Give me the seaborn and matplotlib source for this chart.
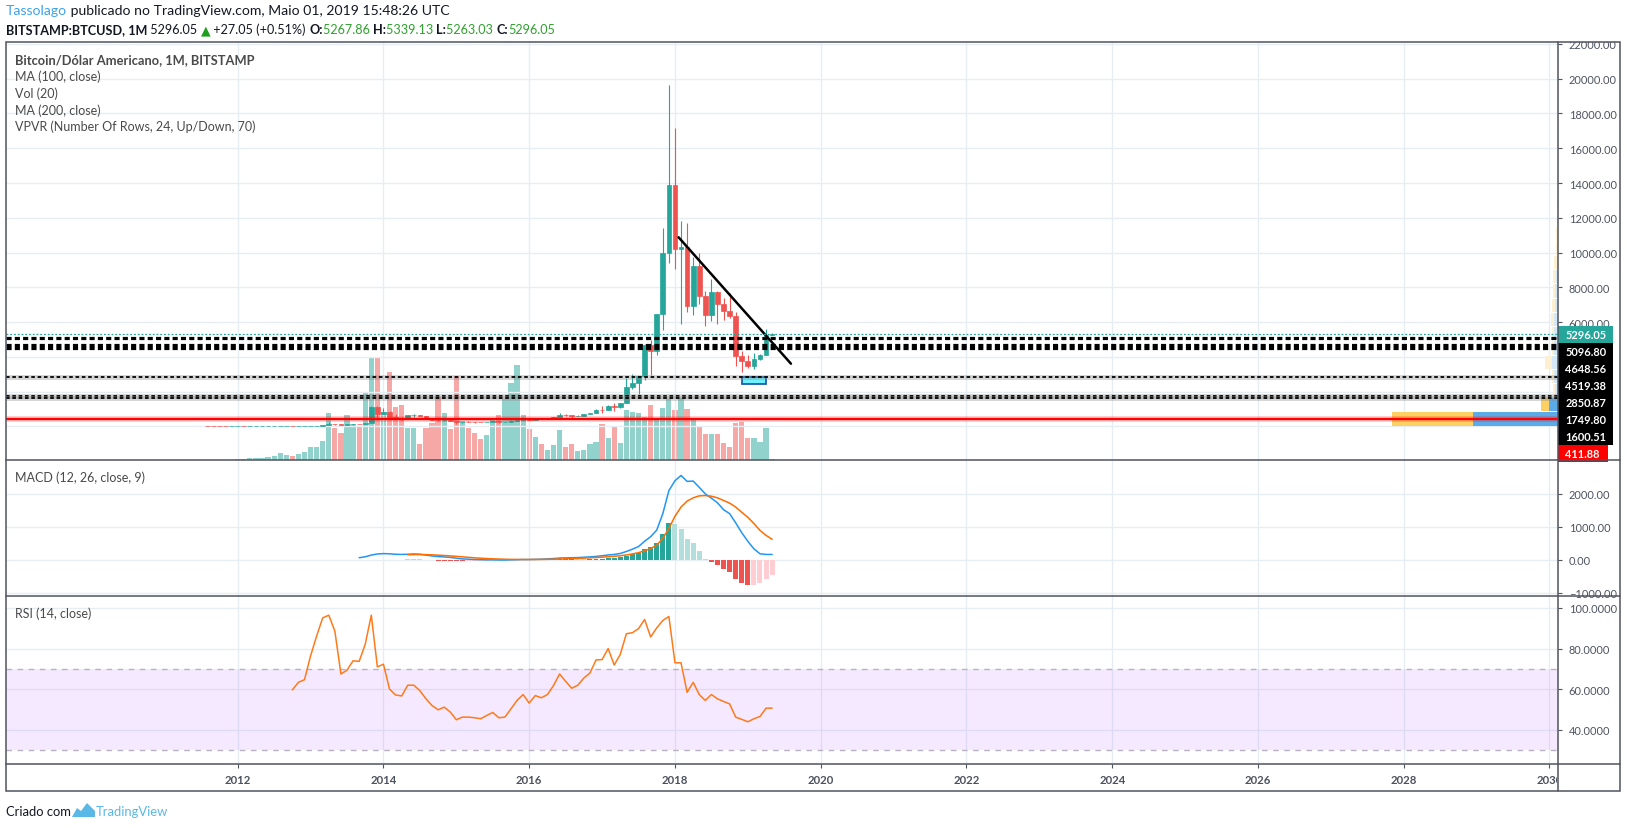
import numpy as np
import pandas as pd
import seaborn as sns
import matplotlib.pyplot as plt
import matplotlib.transforms as mtransforms
from matplotlib.lines import Line2D
from matplotlib.patches import Rectangle, Polygon

# monthly bars BITSTAMP:BTCUSD, Aug 2011 .. May 2019
months = pd.period_range('2011-08', '2019-05', freq='M')

open_ = [10.9, 8.2, 5.1, 3.2, 2.9,
         4.7, 5.5, 4.9, 4.9, 5.0, 5.2, 6.7, 9.3, 10.2, 12.4, 11.2, 12.6,
         13.5, 20.4, 33.4, 93, 139, 129, 97, 106, 135, 133, 198, 1129,
         732, 800, 550, 450, 445, 627, 637, 585, 478, 386, 338, 378,
         320, 217, 254, 244, 236, 230, 263, 284, 230, 236, 314, 377,
         430, 368, 437, 416, 448, 531, 673, 624, 573, 608, 700, 742,
         963, 960, 1190, 1080, 1348, 2286, 2480, 2875, 4703, 4338, 6468, 9947,
         13860, 10221, 10326, 6926, 9240, 7495, 6390, 7730, 7011, 6626, 6371, 4017,
         3742, 3458, 3854, 4105, 5267.86]
high = [13.0, 8.6, 5.4, 3.5, 4.8,
        7.2, 6.3, 5.5, 5.3, 5.2, 6.7, 9.7, 15.4, 12.5, 12.7, 12.9, 13.8,
        20.4, 33.4, 95, 259, 140, 130, 110, 136, 147, 215, 1163, 1150,
        1022, 870, 714, 548, 635, 680, 650, 600, 495, 414, 458, 382,
        320, 265, 300, 261, 247, 266, 318, 286, 245, 332, 502, 469,
        462, 448, 439, 467, 548, 780, 702, 624, 628, 720, 753, 975,
        1150, 1200, 1350, 1350, 2790, 3000, 2915, 4740, 4980, 6470, 11400, 19666,
        17176, 11789, 11710, 9759, 9990, 7766, 8488, 7760, 7410, 7680, 6550, 4310,
        4100, 4200, 4140, 5610, 5339.13]
low = [8.0, 4.5, 2.2, 2.0, 2.7,
       4.6, 4.3, 4.5, 4.8, 4.9, 5.2, 6.6, 7.1, 9.9, 10.3, 10.4, 12.6,
       13.2, 19.1, 33, 50, 79, 88, 65, 98, 118, 103, 196, 384,
       732, 410, 441, 340, 420, 545, 565, 440, 362, 276, 313, 300,
       152, 214, 240, 215, 225, 219, 253, 162, 225, 235, 300, 345,
       352, 366, 404, 412, 442, 518, 600, 480, 570, 603, 682, 743,
       752, 920, 890, 1060, 1345, 2120, 1830, 2682, 2972, 4110, 5555, 9380,
       9035, 5873, 6600, 6425, 7036, 5780, 6070, 5880, 6100, 6211, 3460, 3122,
       3340, 3320, 3830, 4095, 5263.03]
close = [8.2, 5.1, 3.2, 2.9, 4.7,
         5.5, 4.9, 4.9, 5.0, 5.2, 6.7, 9.3, 10.2, 12.4, 11.2, 12.6, 13.5,
         20.4, 33.4, 93, 139, 129, 97, 106, 135, 133, 198, 1129, 732,
         800, 550, 450, 445, 627, 637, 585, 478, 386, 338, 378, 320,
         217, 254, 244, 236, 230, 263, 284, 230, 236, 314, 377, 430,
         368, 437, 416, 448, 531, 673, 624, 573, 608, 700, 742, 963,
         960, 1190, 1080, 1348, 2286, 2480, 2875, 4703, 4338, 6468, 9947, 13860,
         10221, 10326, 6926, 9240, 7495, 6390, 7730, 7011, 6626, 6371, 4017, 3742,
         3458, 3854, 4105, 5268, 5296.05]
volume = [2, 2, 2, 2, 2,
          15, 15, 20, 20, 25, 30, 45, 70, 50, 45, 60, 80,
          130, 130, 190, 470, 320, 270, 450, 360, 340, 670, 1030, 1020,
          480, 880, 530, 550, 320, 320, 160, 320, 370, 630, 470, 310,
          840, 390, 320, 270, 210, 250, 410, 450, 610, 770, 950, 450,
          310, 230, 160, 100, 150, 300, 130, 160, 90, 100, 160, 180,
          360, 220, 340, 170, 500, 480, 470, 430, 550, 410, 520, 610,
          500, 620, 510, 400, 340, 260, 260, 260, 170, 130, 370, 380,
          220, 220, 180, 320, 10]

# RSI(14) from Oct 2012
rsi = [59.7, 63.4, 64.7, 76.4, 86.2, 95.1, 96.4, 88.6, 67.5, 69.4,
       74.0, 73.7, 82.1, 96.4, 71.0, 72.3, 60.1, 57.2, 56.7, 62.0,
       62.0, 59.3, 55.3, 52.0, 49.9, 51.2, 48.8, 45.0, 46.3, 46.3,
       46.0, 45.5, 47.1, 48.6, 46.0, 46.3, 50.4, 54.5, 57.4, 53.2,
       56.9, 55.8, 57.4, 61.8, 67.5, 63.9, 60.5, 62.0, 65.5, 68.0,
       74.4, 74.6, 80.0, 71.9, 77.2, 87.3, 87.8, 89.8, 94.3, 85.7,
       90.2, 93.8, 95.8, 73.0, 73.0, 58.5, 63.4, 57.4, 54.5, 57.4,
       55.3, 54.0, 52.8, 46.3, 45.2, 44.0, 45.5, 46.6, 50.7, 50.7]
rsi_start = 14

# MACD(12, 26, 9): line from Sep 2013, signal / histogram from May 2014
macd = [60, 90, 140, 175, 185, 180, 165, 160, 165, 175,
        165, 140, 115, 95, 85, 70, 45, 25, 15, 5,
        0, -5, -5, -10, -10, -5, 0, 5, 5, 10,
        15, 25, 35, 50, 55, 60, 65, 75, 85, 100,
        120, 145, 160, 190, 250, 320, 400, 560, 700, 900,
        1400, 2100, 2400, 2560, 2380, 2390, 2200, 2000, 1870, 1730,
        1520, 1400, 1120, 820, 560, 330, 180, 160, 160]
macd_start = 25
signal = [150, 155, 158, 155, 148, 138, 128, 116, 102, 87,
          72, 58, 46, 36, 27, 20, 14, 10, 8, 7,
          7, 8, 9, 12, 17, 23, 30, 36, 42, 49,
          57, 66, 77, 90, 104, 121, 144, 175, 214, 270,
          340, 440, 650, 950, 1320, 1600, 1780, 1880, 1940, 1950,
          1930, 1880, 1800, 1720, 1600, 1440, 1290, 1100, 890, 740, 620]
hist = [15, 12, 8, -5, -20, -28, -30, -35, -45, -50,
        -45, -40, -32, -25, -20, -15, -12, -8, -5, -2,
        2, 3, 5, 8, 12, 15, 18, 20, 20, 20,
        22, 25, 30, 40, 45, 70, 120, 160, 200, 312,
        382, 503, 776, 1130, 1070, 948, 615, 503, 250, 10,
        -70, -160, -295, -375, -580, -710, -770, -770, -700, -600, -470]
signal_start = 33

# drawings on the price pane
level_prices = [5096.80, 4648.56, 4519.38, 2850.87, 1749.80, 1600.51]
level_thick = [True, True, True, False, False, False]
red_level = 411.88
last_price = 5296.05
trend_x = [77.6, 96.1]
trend_y = [10875, 3600]
zone_x = [88.1, 92.0]
zone_y = [2430, 2820]

# VPVR, 24 rows, up / down volume per row (bottom row first)
vp_yellow = [81, 7.7, 2.5, 2.7, 6.7, 2.7, 2.3, 3.3, 3.0, 2.7, 2.7, 2.3,
             1.7, 1.7, 1.0, 0.8, 0.6, 0.5, 0.4, 0.3, 0.3, 0.3, 0.2, 0.2]
vp_blue = [85, 9.7, 3.0, 4.0, 6.3, 4.0, 4.0, 4.0, 3.3, 3.0, 2.3, 1.7,
           0.7, 0.5, 0.3, 0.2, 0.2, 0.1, 0.1, 0.1, 0.1, 0.1, 0.1, 0.1]

year_labels = [str(y) for y in range(2012, 2031, 2)]

UP, DN = '#26A69A', '#EF5350'
GRID = '#E7EEF3'
FRAME = '#50535E'
TXT = '#4C525E'

sns.set_style('white')
plt.rcParams['font.family'] = ['Lato', 'DejaVu Sans']

W, H = 1627, 829
fig = plt.figure(figsize=(W / 100, H / 100), dpi=100)
fig.patch.set_facecolor('white')

L, R, RR = 6.3, 1558.3, 1620.3
T, Y1, Y2, Y3, Y4 = 43, 461, 597.3, 765.3, 792.3


def box(x0, y0, x1, y1):
    return [x0 / W, 1 - y1 / H, (x1 - x0) / W, (y1 - y0) / H]


ax = fig.add_axes(box(L, T, R, Y1))
ax_vol = ax.twinx()
ax_vp = ax.twiny()
ax_macd = fig.add_axes(box(L, Y1, R, Y2), sharex=ax)
ax_rsi = fig.add_axes(box(L, Y2, R, Y3), sharex=ax)
ax_time = fig.add_axes(box(L, Y3, R, Y4), sharex=ax)

ax_vol.set_zorder(1)
ax.set_zorder(2)
ax_vp.set_zorder(3)
ax.patch.set_visible(False)
ax_vp.patch.set_visible(False)

x = np.arange(len(months))
o, h_, l_, c = map(np.asarray, (open_, high, low, close))
up = c >= o
ccol = np.where(up, UP, DN)

year_idx = [(int(y) - 2011) * 12 - 7 for y in year_labels]
ax.set_xlim(-33.1, 222.45)
ax.set_xticks(year_idx)

# volume (behind)
ax_vol.bar(x, volume, width=0.86, color=ccol, alpha=0.5, lw=0)
ax_vol.set_ylim(0, 4190)
ax_vol.axis('off')

# candles
ax.vlines(x, l_, h_, colors=ccol, lw=0.8, zorder=3)
ax.bar(x, np.abs(c - o), bottom=np.minimum(o, c), width=0.78,
       color=ccol, edgecolor=ccol, lw=0.5, zorder=4)
ax.plot(trend_x, trend_y, color='black', lw=1.8, zorder=5)
ax.add_patch(Rectangle((zone_x[0], zone_y[0]), zone_x[1] - zone_x[0], zone_y[1] - zone_y[0],
                       fc='#6EF2FF', ec='#1C5FA8', lw=1.3, zorder=5))
ax.set_ylim(-1942, 22115)
pt = np.arange(0, 22001, 2000)
ax.set_yticks(pt)
# the lowest ticks sit under the level labels on the scale
ax.set_yticklabels([f'{v:.2f}' if v >= 6000 else '' for v in pt])
ax.yaxis.tick_right()
ax.grid(True, color=GRID, lw=1)
ax.set_axisbelow(True)

# VPVR on the right edge
rows = len(vp_blue)
vp_lo, vp_hi = min(low), max(high)
row_h = (vp_hi - vp_lo) / rows
centers = vp_lo + (np.arange(rows) + 0.5) * row_h
tot = np.array(vp_blue) + np.array(vp_yellow)
poc = int(np.argmax(tot))
lo = hi = poc
acc = tot[poc]
while acc < 0.7 * tot.sum():
    nxt_up = tot[hi + 1] if hi + 1 < rows else -1
    nxt_dn = tot[lo - 1] if lo > 0 else -1
    if nxt_up >= nxt_dn:
        hi += 1
        acc += tot[hi]
    else:
        lo -= 1
        acc += tot[lo]
in_va = (np.arange(rows) >= lo) & (np.arange(rows) <= hi)
ax_vp.barh(centers, vp_blue, left=0, height=row_h * 0.93,
           color=np.where(in_va, '#5BABE9', '#D5E8F8'), lw=0)
ax_vp.barh(centers, vp_yellow, left=vp_blue, height=row_h * 0.93,
           color=np.where(in_va, '#FCD063', '#FDF0D2'), lw=0)
ax_vp.set_xlim(R - L, 0)
ax_vp.set_xticks([])
ax_vp.tick_params(top=False, labeltop=False)

# horizontal levels
ax_vp.axhline(last_price, color=UP, lw=0.9, ls=(0, (1.5, 1.5)), zorder=6)
for p, thick in zip(level_prices, level_thick):
    if thick:
        ax_vp.axhline(p, color='black', lw=2.3, ls=(0, (1.6, 1.0)), zorder=6)
    else:
        ax_vp.axhline(p, color='#8A8A8A', lw=3.6, alpha=0.35, zorder=6)
        ax_vp.axhline(p, color='black', lw=1.3, ls=(0, (2.0, 1.5)), zorder=6)
ax_vp.axhline(red_level, color='#FF0000', lw=4, alpha=0.25, zorder=6)
ax_vp.axhline(red_level, color='#FF0000', lw=1.6, zorder=6)

# price labels on the scale (pushed apart like TradingView)
ymin, ymax = ax.get_ylim()
gap = 17 * (ymax - ymin) / (Y1 - T)
labels = [(last_price, UP, 55)] + [(p, 'black', 55) for p in level_prices] + [(red_level, '#FF0000', 50)]
blend = mtransforms.blended_transform_factory(ax_vp.transAxes, ax_vp.transData)
prev = None
for p, col, wpx in labels:
    yl = p if prev is None else min(p, prev - gap)
    prev = yl
    ax_vp.add_patch(Rectangle((1.0, yl - gap / 2), wpx / (R - L), gap, transform=blend,
                              fc=col, ec='none', clip_on=False, zorder=8))
    ax_vp.text(1.0 + 7 / (R - L), yl, f'{p:.2f}', transform=blend, color='white',
               fontsize=7.9, fontweight='bold', va='center', ha='left', clip_on=False, zorder=9)

# MACD pane
xs = np.arange(signal_start, signal_start + len(hist))
hcol = []
for k, v in enumerate(hist):
    pv = hist[k - 1] if k > 0 else v
    if v >= 0:
        hcol.append('#26A69A' if v > pv else '#B2DFDB')
    else:
        hcol.append('#EF5350' if v < pv else '#FFCDD2')
ax_macd.bar(xs, hist, width=0.82, color=hcol, lw=0, zorder=2)
sns.lineplot(x=np.arange(macd_start, macd_start + len(macd)), y=macd, ax=ax_macd,
             color='#2196F3', lw=1.1, zorder=3)
sns.lineplot(x=np.arange(signal_start, signal_start + len(signal)), y=signal, ax=ax_macd,
             color='#FF6D00', lw=1.1, zorder=3)
ax_macd.set_ylim(-1112, 3030)
mt = [-1000, 0, 1000, 2000]
ax_macd.set_yticks(mt)
ax_macd.set_yticklabels([f'{v:.2f}'.replace('-', '\u2212') for v in mt])
ax_macd.yaxis.tick_right()
ax_macd.grid(True, color=GRID, lw=1)
ax_macd.set_axisbelow(True)

# RSI pane
ax_rsi.axhspan(30, 70, color='#9915FF', alpha=0.09, lw=0, zorder=1)
for lvl in (30, 70):
    ax_rsi.axhline(lvl, color='#B9B1C2', lw=1, ls=(0, (4, 4)), zorder=1.5)
sns.lineplot(x=np.arange(rsi_start, rsi_start + len(rsi)), y=rsi, ax=ax_rsi,
             color='#FF7A1A', lw=1.1, zorder=3)
ax_rsi.set_ylim(23.1, 105.7)
rt = [40, 60, 80, 100]
ax_rsi.set_yticks(rt)
ax_rsi.set_yticklabels([f'{v:.4f}' for v in rt])
ax_rsi.yaxis.tick_right()
ax_rsi.grid(True, color=GRID, lw=1)
ax_rsi.set_axisbelow(True)

# scale column: labels are clipped by the surrounding frame, as on the site
scale_clip = mtransforms.TransformedBbox(
    mtransforms.Bbox.from_extents(R / W, 1 - Y4 / H, RR / W, 1 - T / H), fig.transFigure)
for a in (ax, ax_macd, ax_rsi):
    a.tick_params(axis='x', length=0, labelbottom=False, labeltop=False)
    a.tick_params(axis='y', direction='out', length=3, pad=4.5, labelsize=7.9,
                  labelcolor=TXT, color=FRAME, right=True, left=False)
    a.set_xlabel('')
    a.set_ylabel('')
    for tk in a.yaxis.get_major_ticks():
        tk.label2.set_clip_box(scale_clip)
        tk.label2.set_clip_on(True)

# time scale
ax_time.set_ylim(0, 1)
ax_time.set_yticks([])
ax_time.tick_params(axis='x', top=True, bottom=False, direction='in', length=3,
                    color=FRAME, labeltop=False, labelbottom=False)
time_clip = mtransforms.TransformedBbox(
    mtransforms.Bbox.from_extents(L / W, 1 - Y4 / H, (R - 1.5) / W, 1 - Y3 / H), fig.transFigure)
tb = mtransforms.blended_transform_factory(ax_time.transData, ax_time.transAxes)
for xi, lab in zip(year_idx, year_labels):
    t = ax_time.text(xi, 0.45, lab, transform=tb, ha='center', va='center', fontsize=8.2,
                     color=TXT, fontweight='bold')
    t.set_clip_box(time_clip)
    t.set_clip_on(True)

for a in (ax, ax_vol, ax_vp, ax_macd, ax_rsi, ax_time):
    for s in a.spines.values():
        s.set_visible(False)

# frame
fig.add_artist(Rectangle((L / W, 1 - Y4 / H), (RR - L) / W, (Y4 - T) / H, fill=False,
                         ec=FRAME, lw=1.1, transform=fig.transFigure, zorder=20))
for yy in (Y1, Y2, Y3):
    fig.add_artist(Line2D([L / W, RR / W], [1 - yy / H] * 2, color=FRAME, lw=1.1,
                          transform=fig.transFigure, zorder=20))
fig.add_artist(Line2D([R / W] * 2, [1 - T / H, 1 - Y4 / H], color=FRAME, lw=1.1,
                      transform=fig.transFigure, zorder=20))

# texts in pixel space
ax_txt = fig.add_axes([0, 0, 1, 1])
ax_txt.set_xlim(0, W)
ax_txt.set_ylim(H, 0)
ax_txt.axis('off')
ax_txt.set_zorder(30)


def chain(x0, y0, parts, size):
    prev = None
    for text, color, weight in parts:
        if prev is None:
            prev = ax_txt.text(x0, y0, text, color=color, fontweight=weight,
                               fontsize=size, va='center', ha='left')
        else:
            prev = ax_txt.annotate(text, xy=(1, 0.5), xycoords=prev, va='center', ha='left',
                                   color=color, fontweight=weight, fontsize=size)


DARK = '#131722'
GREEN = '#2FA12F'
chain(6, 11, [('Tassolago', '#3BA3E6', 'normal'),
              (' publicado no TradingView.com, Maio 01, 2019 15:48:26 UTC', DARK, 'normal')], 10.1)
chain(6, 30, [('BITSTAMP:BTCUSD, 1M', DARK, 'bold'), (' 5296.05 ', DARK, 'normal'),
              ('\u25B2', '#1E9E1E', 'normal'), (' +27.05 (+0.51%) ', DARK, 'normal'),
              ('O:', DARK, 'bold'), ('5267.86 ', GREEN, 'normal'),
              ('H:', DARK, 'bold'), ('5339.13 ', GREEN, 'normal'),
              ('L:', DARK, 'bold'), ('5263.03 ', GREEN, 'normal'),
              ('C:', DARK, 'bold'), ('5296.05', GREEN, 'normal')], 9.1)

legend = ['Bitcoin/Dólar Americano, 1M, BITSTAMP', 'MA (100, close)', 'Vol (20)',
          'MA (200, close)', 'VPVR (Number Of Rows, 24, Up/Down, 70)']
for k, t in enumerate(legend):
    ax_txt.text(15, 60 + k * 16.8, t, fontsize=9.3 if k == 0 else 9, va='center', ha='left',
                color='#4A4A4A', fontweight='bold' if k == 0 else 'normal')
ax_txt.text(15, 478, 'MACD (12, 26, close, 9)', fontsize=9, va='center', color='#4A4A4A')
ax_txt.text(15, 614, 'RSI (14, close)', fontsize=9, va='center', color='#4A4A4A')

ax_txt.text(6, 812, 'Criado com', fontsize=9.4, va='center', color=DARK)
ax_txt.add_patch(Polygon([(72, 818), (77, 809), (81, 812), (87, 804), (95, 812), (95, 818)],
                         closed=True, fc='#5AB8E6', ec='none'))
ax_txt.text(96, 812, 'TradingView', fontsize=9.4, va='center', color='#5AB8E6')

fig.savefig('out.png', dpi=100, facecolor='white')
